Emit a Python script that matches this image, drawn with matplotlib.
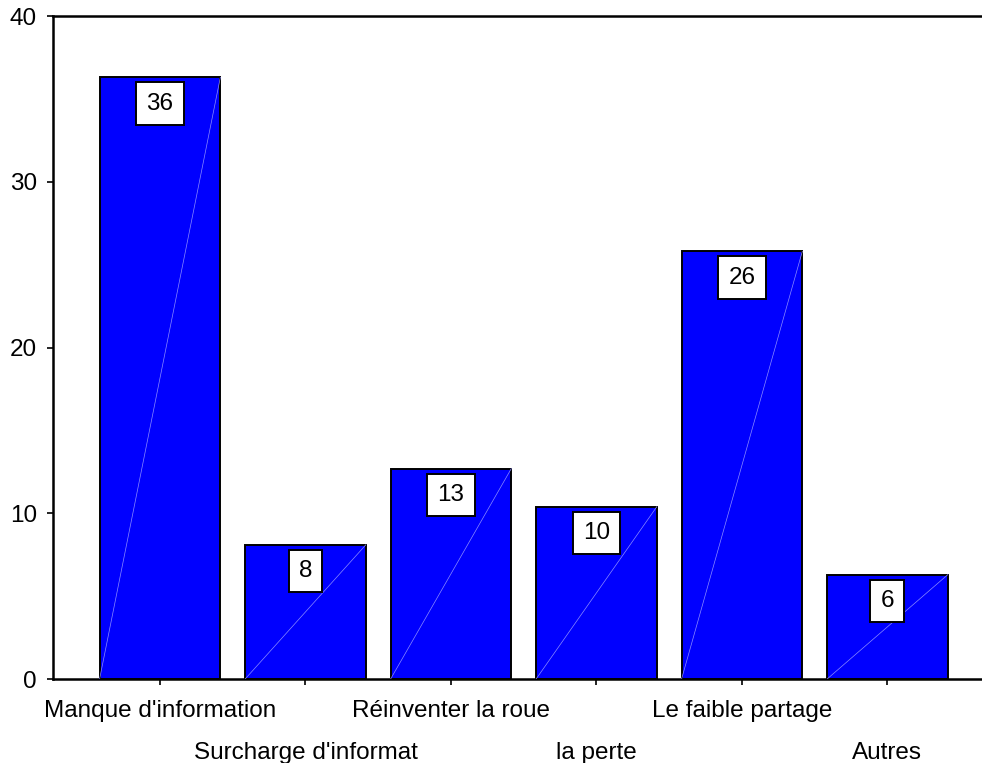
import matplotlib
matplotlib.use("Agg")
import matplotlib.pyplot as plt

plt.rcParams['font.family'] = ['Liberation Sans', 'DejaVu Sans']

categories = ["Manque d'information", "Surcharge d'informat", "Réinventer la roue",
              "la perte", "Le faible partage", "Autres"]
values = [36.3, 8.1, 12.7, 10.4, 25.8, 6.3]
yticks = [0, 10, 20, 30, 40]

FS = 17.5

fig = plt.figure(figsize=(9.82, 7.63), dpi=100)
ax = fig.add_axes([0.054, 0.110, 0.946, 0.869])

x = list(range(len(categories)))
width = 0.83
bars = ax.bar(x, values, width=width, color='#0000ff', edgecolor='black',
              linewidth=1.4, zorder=2)

# faint diagonal across each bar
for xi, v in zip(x, values):
    ax.plot([xi - width / 2, xi + width / 2], [0, v], color='#8c8cff',
            linewidth=0.5, zorder=3)

# value boxes just under the top of each bar
for xi, v in zip(x, values):
    ax.annotate(f"{v:.0f}", xy=(xi, v), xytext=(0, -11), textcoords='offset points',
                ha='center', va='top', fontsize=FS, zorder=5,
                bbox=dict(boxstyle='square,pad=0.42', facecolor='white',
                          edgecolor='black', linewidth=1.4))

ax.set_xlim(-0.735, 5.65)
ax.set_ylim(0, 40)
ax.set_yticks(yticks)
ax.set_yticklabels([str(t) for t in yticks], fontsize=FS)
ax.set_xticks(x)
ax.set_xticklabels(categories, fontsize=FS)

ax.tick_params(axis='both', direction='out', length=4.5, width=1.2, color='black')
ax.tick_params(axis='y', pad=7)
ax.tick_params(axis='x', pad=10.5)
for i, tick in enumerate(ax.xaxis.get_major_ticks()):
    if i % 2 == 1:
        tick.set_pad(40.5)

for side in ('left', 'top', 'bottom'):
    ax.spines[side].set_linewidth(1.8)
    ax.spines[side].set_color('black')
ax.spines['right'].set_visible(False)

fig.savefig('out.png', dpi=100, facecolor='white')
